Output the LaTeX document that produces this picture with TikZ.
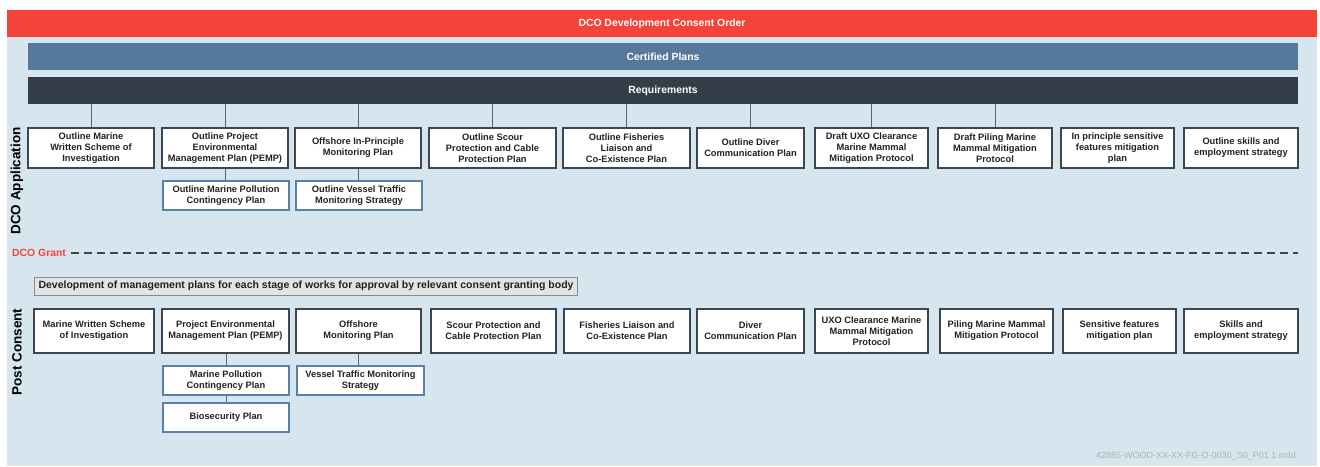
\documentclass[tikz,border=0pt]{standalone}
\usepackage{fontspec}
\setmainfont{Liberation Sans}
\definecolor{topred}{HTML}{F4433A}
\definecolor{bgblue}{HTML}{D7E5EF}
\definecolor{certblue}{HTML}{56789A}
\definecolor{reqdark}{HTML}{343E48}
\definecolor{boxline}{HTML}{3C4650}
\definecolor{subline}{HTML}{5A80A8}
\definecolor{conn}{HTML}{5A6570}
\definecolor{devfill}{HTML}{E4E4E4}
\definecolor{devline}{HTML}{8A8A8A}
\definecolor{txt}{HTML}{222222}
\tikzset{
  bar/.style={inner sep=0pt, text=white, font=\bfseries\fontsize{10.4}{12}\selectfont},
  planbox/.style={draw=boxline, line width=1.8pt, fill=white, inner sep=0pt, align=center,
    text=txt, font=\bfseries\fontsize{9.3}{11}\selectfont, minimum height=40pt},
  subbox/.style={draw=subline, line width=1.5pt, fill=white, inner sep=0pt, align=center,
    text=txt, font=\bfseries\fontsize{9.3}{11}\selectfont, minimum width=126pt, minimum height=29pt},
  link/.style={draw=conn, line width=0.9pt},
  sidelabel/.style={rotate=90, font=\bfseries\fontsize{13.5}{15}\selectfont, text=black, inner sep=0pt}
}
\begin{document}
\begin{tikzpicture}[x=1pt,y=-1pt]
\useasboundingbox (0,0) rectangle (1320,466);
\fill[white] (0,0) rectangle (1320,466);
\fill[bgblue] (7,37) rectangle (1317,466);
% header bars
\node[bar, fill=topred, minimum width=1310pt, minimum height=27pt] (dco) at (662,23.5) {DCO Development Consent Order};
\node[bar, fill=certblue, minimum width=1270pt, minimum height=27pt] (cert) at (663,56.5) {Certified Plans};
\node[bar, fill=reqdark, minimum width=1270pt, minimum height=27pt] (req) at (663,90.5) {Requirements};
% side labels
\node[sidelabel] (lapp) at (17,181) {DCO Application};
\node[sidelabel] (lpost) at (17,352) {Post Consent};
% top row
\node[planbox, minimum width=126pt] (a1) at (91,148) {Outline Marine\\Written Scheme of\\Investigation};
\node[planbox, minimum width=126pt] (a2) at (225,148) {Outline Project\\Environmental\\Management Plan (PEMP)};
\node[planbox, minimum width=126pt] (a3) at (358,148) {Offshore In-Principle\\Monitoring Plan};
\node[planbox, minimum width=127pt] (a4) at (492.5,148) {Outline Scour\\Protection and Cable\\Protection Plan};
\node[planbox, minimum width=127pt] (a5) at (626.5,148) {Outline Fisheries\\Liaison and\\Co-Existence Plan};
\node[planbox, minimum width=107pt] (a6) at (750.5,148) {Outline Diver\\Communication Plan};
\node[planbox, minimum width=113pt] (a7) at (871.5,148) {Draft UXO Clearance\\Marine Mammal\\Mitigation Protocol};
\node[planbox, minimum width=114pt] (a8) at (995,148) {Draft Piling Marine\\Mammal Mitigation\\Protocol};
\node[planbox, minimum width=113pt] (a9) at (1117.5,148) {In principle sensitive\\features mitigation\\plan};
\node[planbox, minimum width=114pt] (a10) at (1241,148) {Outline skills and\\employment strategy};
\node[subbox] (as1) at (226,195.5) {Outline Marine Pollution\\Contingency Plan};
\node[subbox] (as2) at (359,195.5) {Outline Vessel Traffic\\Monitoring Strategy};
\foreach \n in {a1,a2,a3,a4,a5,a6,a7,a8} {
  \draw[link] (\n.north) -- (\n.north |- req.south);
}
\draw[link] (a2.south) -- (a2.south |- as1.north);
\draw[link] (a3.south) -- (a3.south |- as2.north);
% DCO grant
\node[anchor=west, inner sep=0pt, text=topred, font=\bfseries\fontsize{10.4}{12}\selectfont] (grant) at (12,253) {DCO Grant};
\coordinate (gend) at (1298,253);
\draw[boxline, line width=1.8pt, dash pattern=on 8pt off 5pt] ([xshift=5pt]grant.east) -- (gend);
% post consent
\node[anchor=west, draw=devline, line width=1pt, fill=devfill, inner xsep=4pt, inner ysep=0pt,
  minimum height=18pt, text=txt, font=\bfseries\fontsize{10.5}{12}\selectfont] (dev) at (34,286)
  {Development of management plans for each stage of works for approval by relevant consent granting body};
\node[planbox, minimum width=120pt, minimum height=44pt] (b1) at (94,331) {Marine Written Scheme\\of Investigation};
\node[planbox, minimum width=127pt, minimum height=44pt] (b2) at (225.5,331) {Project Environmental\\Management Plan (PEMP)};
\node[planbox, minimum width=125pt, minimum height=44pt] (b3) at (358.5,331) {Offshore\\Monitoring Plan};
\node[planbox, minimum width=125pt, minimum height=44pt] (b4) at (493.5,331) {Scour Protection and\\Cable Protection Plan};
\node[planbox, minimum width=126pt, minimum height=44pt] (b5) at (627,331) {Fisheries Liaison and\\Co-Existence Plan};
\node[planbox, minimum width=107pt, minimum height=44pt] (b6) at (750.5,331) {Diver\\Communication Plan};
\node[planbox, minimum width=113pt, minimum height=44pt] (b7) at (871.5,331) {UXO Clearance Marine\\Mammal Mitigation\\Protocol};
\node[planbox, minimum width=113pt, minimum height=44pt] (b8) at (996.5,331) {Piling Marine Mammal\\Mitigation Protocol};
\node[planbox, minimum width=113pt, minimum height=44pt] (b9) at (1119.5,331) {Sensitive features\\mitigation plan};
\node[planbox, minimum width=114pt, minimum height=44pt] (b10) at (1241,331) {Skills and\\employment strategy};
\node[subbox] (bs1) at (226,380.5) {Marine Pollution\\Contingency Plan};
\node[subbox] (bs3) at (226,417.5) {Biosecurity Plan};
\node[subbox, minimum width=127pt] (bs2) at (360.5,380.5) {Vessel Traffic Monitoring\\Strategy};
\draw[link] (bs1.north |- b2.south) -- (bs1.north);
\draw[link] (bs1.south) -- (bs3.north);
\draw[link] (b3.south) -- (b3.south |- bs2.north);
% footer
\node[anchor=east, inner sep=0pt, text=black!30, font=\fontsize{9}{10}\selectfont] (foot) at (1296,456) {42885-WOOD-XX-XX-FG-O-0030\_S0\_P01.1.indd};
\end{tikzpicture}
\end{document}
